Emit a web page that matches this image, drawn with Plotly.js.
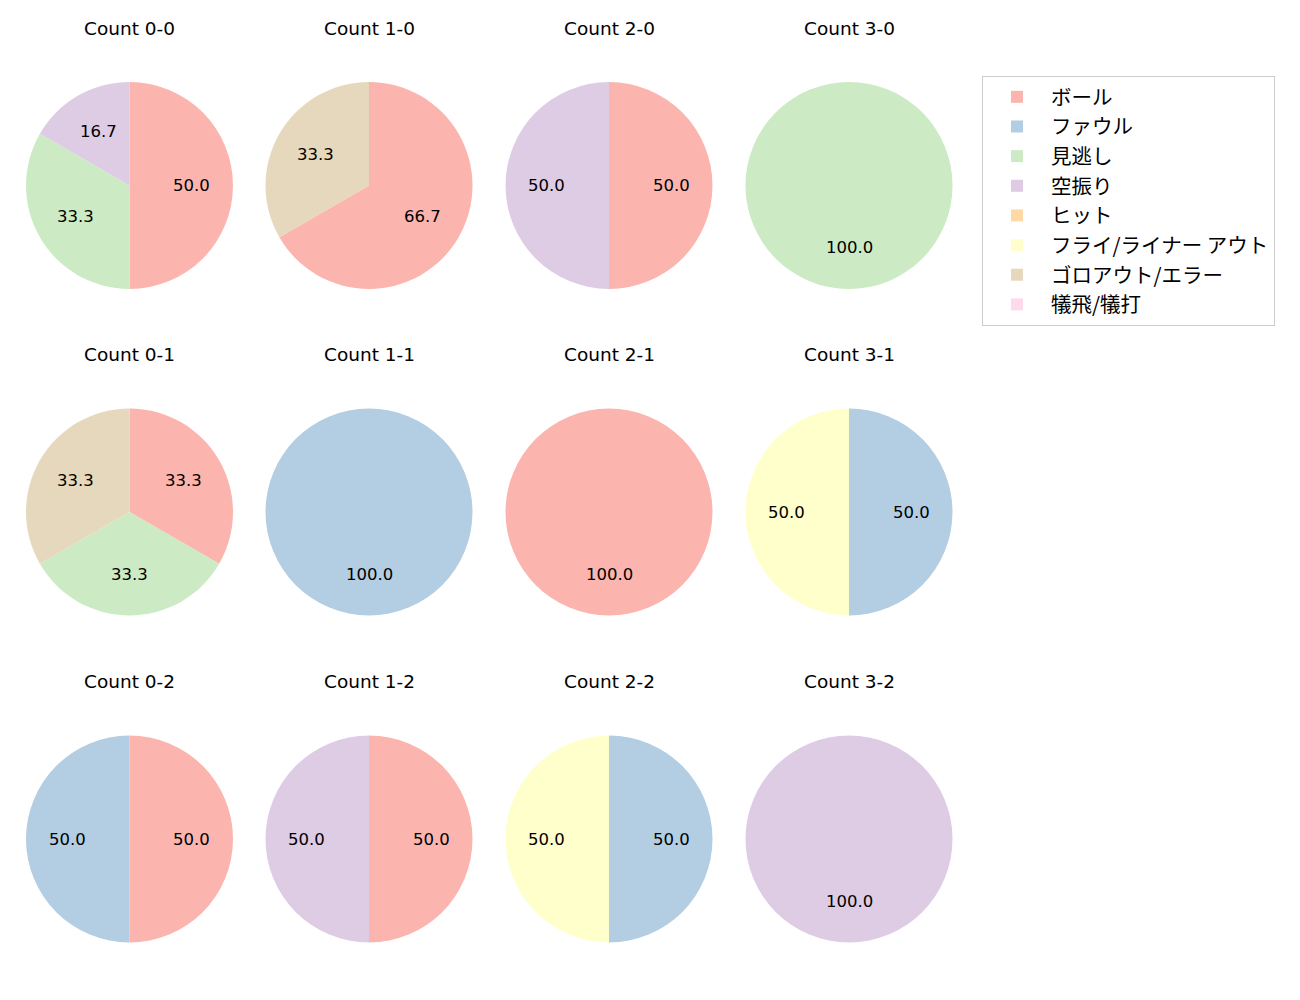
<!DOCTYPE html>
<html>
<head>
<meta charset="utf-8">
<script src="https://cdn.plot.ly/plotly-3.0.1.min.js"></script>
<style>html,body{margin:0;padding:0;background:#fff;}#chart{width:1300px;height:1000px;}</style>
</head>
<body>
<div id="chart"></div>
<script>
// Categories (legend order)
const categories = ["ボール", "ファウル", "見逃し", "空振り", "ヒット", "フライ/ライナー アウト", "ゴロアウト/エラー", "犠飛/犠打"];
const colors = ["#fbb4ae", "#b3cde3", "#ccebc5", "#decbe4", "#fed9a6", "#ffffcc", "#e5d8bd", "#fddaec"];

// Pie titles, row by row
const titles = ["Count 0-0", "Count 1-0", "Count 2-0", "Count 3-0",
                "Count 0-1", "Count 1-1", "Count 2-1", "Count 3-1",
                "Count 0-2", "Count 1-2", "Count 2-2", "Count 3-2"];

// Counts per category for each pie (same order as categories)
const c00 = [3, 0, 2, 1, 0, 0, 0, 0];
const c10 = [2, 0, 0, 0, 0, 0, 1, 0];
const c20 = [1, 0, 0, 1, 0, 0, 0, 0];
const c30 = [0, 0, 1, 0, 0, 0, 0, 0];
const c01 = [1, 0, 1, 0, 0, 0, 1, 0];
const c11 = [0, 1, 0, 0, 0, 0, 0, 0];
const c21 = [1, 0, 0, 0, 0, 0, 0, 0];
const c31 = [0, 1, 0, 0, 0, 1, 0, 0];
const c02 = [1, 1, 0, 0, 0, 0, 0, 0];
const c12 = [1, 0, 0, 1, 0, 0, 0, 0];
const c22 = [0, 1, 0, 0, 0, 1, 0, 0];
const c32 = [0, 0, 0, 1, 0, 0, 0, 0];
const values = [c00, c10, c20, c30, c01, c11, c21, c31, c02, c12, c22, c32];

const W = 1300, H = 1000;
const colCenters = [129.5, 369, 609, 849];
const rowCenters = [185.5, 512, 839];
const R = 103.5;
const titleOffset = 157.5;
const LATIN = "DejaVu Sans, Noto Sans CJK JP, sans-serif";
const CJK = "Noto Sans CJK JP, DejaVu Sans, sans-serif";

const traces = [];
const annotations = [];
values.forEach((vals, i) => {
  const cx = colCenters[i % 4], cy = rowCenters[Math.floor(i / 4)];
  traces.push({
    type: "pie",
    labels: categories,
    values: vals,
    sort: false,
    direction: "clockwise",
    rotation: 0,
    textinfo: "none",
    hoverinfo: "label+percent",
    marker: {colors: colors, line: {width: 0}},
    domain: {x: [(cx - R) / W, (cx + R) / W], y: [1 - (cy + R) / H, 1 - (cy - R) / H]},
    showlegend: i === 0
  });
  annotations.push({
    text: titles[i], xref: "paper", yref: "paper",
    x: cx / W, y: 1 - (cy - titleOffset) / H, showarrow: false,
    xanchor: "center", yanchor: "middle",
    font: {family: LATIN, size: 18.5, color: "#000"}
  });
  const total = vals.reduce((a, b) => a + b, 0);
  let cum = 0;
  vals.forEach(v => {
    if (v <= 0) return;
    const mid = (cum + v / 2) / total * 2 * Math.PI;
    cum += v;
    const px = cx + 0.6 * R * Math.sin(mid);
    const py = cy - 0.6 * R * Math.cos(mid);
    annotations.push({
      text: (v / total * 100).toFixed(1), xref: "paper", yref: "paper",
      x: px / W, y: 1 - py / H, showarrow: false,
      xanchor: "center", yanchor: "middle",
      font: {family: LATIN, size: 16.5, color: "#000"}
    });
  });
});

const layout = {
  width: W, height: H,
  margin: {l: 0, r: 0, t: 0, b: 0},
  paper_bgcolor: "#fff",
  font: {family: CJK, size: 19, color: "#000"},
  showlegend: true,
  legend: {
    x: 982 / W, y: 1 - 76 / H, xanchor: "left", yanchor: "top",
    bordercolor: "#cccccc", borderwidth: 1, bgcolor: "#fff",
    font: {family: CJK, size: 20.5, color: "#000"},
    traceorder: "normal", itemwidth: 58
  },
  annotations: annotations
};

Plotly.newPlot("chart", traces, layout, {displayModeBar: false, staticPlot: true});
</script>
</body>
</html>
